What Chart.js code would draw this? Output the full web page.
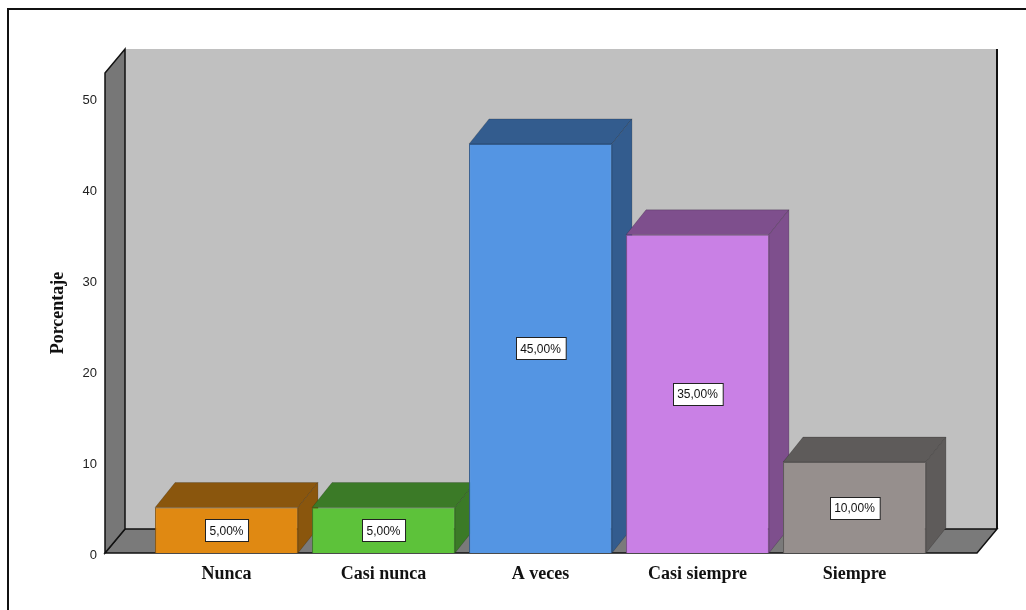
<!DOCTYPE html>
<html>
<head>
<meta charset="utf-8">
<script src="https://cdn.jsdelivr.net/npm/chart.js@4.4.1/dist/chart.umd.min.js"></script>
<style>
  html, body { margin: 0; padding: 0; background: #ffffff; overflow: hidden; }
  canvas { display: block; }
</style>
</head>
<body>
<canvas id="chart" width="1026" height="610"></canvas>
<script>
// Response categories and their percentages
const categories = ['Nunca', 'Casi nunca', 'A veces', 'Casi siempre', 'Siempre'];
const percentages = [5, 5, 45, 35, 10];
const yTicks = [0, 10, 20, 30, 40, 50];

// Front face colours and the darker shade used for the top / side faces
const frontColors = ['#E08912', '#5DC23A', '#5495E3', '#C980E5', '#968F8D'];
const shadeColors = ['#8A560D', '#3B7A27', '#335C8E', '#7E4F8D', '#5E5B5A'];

// 3D box look: depth offsets for walls and bars
const WALL_DEPTH = { x: 20, y: -24 };
const BAR_DEPTH = { x: 20, y: -25 };
const WALL_PAD_LEFT = 43;
const WALL_PAD_RIGHT = 44;

function poly(ctx, pts, fill, stroke, lw) {
  ctx.beginPath();
  ctx.moveTo(pts[0][0], pts[0][1]);
  for (let i = 1; i < pts.length; i++) ctx.lineTo(pts[i][0], pts[i][1]);
  ctx.closePath();
  if (fill) { ctx.fillStyle = fill; ctx.fill(); }
  if (stroke) { ctx.strokeStyle = stroke; ctx.lineWidth = lw || 1; ctx.stroke(); }
}

const box3d = {
  id: 'box3d',
  beforeDraw(chart) {
    const ctx = chart.ctx;
    // outer frame (open towards the right and bottom edges)
    ctx.save();
    ctx.strokeStyle = '#111';
    ctx.lineWidth = 2;
    ctx.beginPath();
    ctx.moveTo(8, chart.height + 5);
    ctx.lineTo(8, 9);
    ctx.lineTo(chart.width + 5, 9);
    ctx.stroke();
    ctx.restore();
  },
  beforeDatasetsDraw(chart) {
    const ctx = chart.ctx;
    const area = chart.chartArea;
    const ys = chart.scales.y;
    const y0 = ys.getPixelForValue(0);
    const yTop = area.top;
    const L = area.left - WALL_PAD_LEFT;
    const R = area.right + WALL_PAD_RIGHT;
    const dx = WALL_DEPTH.x, dy = WALL_DEPTH.y;
    ctx.save();
    // back wall
    ctx.fillStyle = '#C0C0C0';
    ctx.fillRect(L + dx, yTop + dy, R - L, y0 - yTop);
    ctx.strokeStyle = '#111';
    ctx.lineWidth = 2;
    ctx.beginPath();
    ctx.moveTo(R + dx, yTop + dy);
    ctx.lineTo(R + dx, y0 + dy);
    ctx.stroke();
    // floor
    poly(ctx, [[L, y0], [L + dx, y0 + dy], [R + dx, y0 + dy], [R, y0]], '#7A7A7A', '#111', 1.5);
    // left wall
    poly(ctx, [[L, yTop], [L + dx, yTop + dy], [L + dx, y0 + dy], [L, y0]], '#777777', '#111', 1.5);

    // top and side faces of each bar
    const meta = chart.getDatasetMeta(0);
    const bx = BAR_DEPTH.x, by = BAR_DEPTH.y;
    meta.data.forEach((el, i) => {
      const p = el.getProps(['x', 'y', 'base', 'width'], true);
      const left = p.x - p.width / 2;
      const right = p.x + p.width / 2;
      const shade = shadeColors[i];
      poly(ctx, [[left, p.y], [left + bx, p.y + by], [right + bx, p.y + by], [right, p.y]], shade, 'rgba(0,0,0,0.18)', 1);
      poly(ctx, [[right, p.y], [right + bx, p.y + by], [right + bx, p.base + by], [right, p.base]], shade, 'rgba(0,0,0,0.18)', 1);
    });
    ctx.restore();
  },
  afterDatasetsDraw(chart) {
    const ctx = chart.ctx;
    const meta = chart.getDatasetMeta(0);
    const ds = chart.data.datasets[0];
    ctx.save();
    ctx.font = '12px "Liberation Sans", Arial, sans-serif';
    ctx.textAlign = 'center';
    ctx.textBaseline = 'middle';
    meta.data.forEach((el, i) => {
      const p = el.getProps(['x', 'y', 'base'], true);
      const text = ds.data[i].toFixed(2).replace('.', ',') + '%';
      const cy = (p.y + p.base) / 2;
      const w = ctx.measureText(text).width + 9;
      const h = 22;
      const bxl = Math.round(p.x - w / 2) + 0.5;
      const byt = Math.round(cy - h / 2) + 0.5;
      ctx.fillStyle = '#ffffff';
      ctx.fillRect(bxl, byt, w, h);
      ctx.strokeStyle = '#222';
      ctx.lineWidth = 1;
      ctx.strokeRect(bxl, byt, w, h);
      ctx.fillStyle = '#111';
      ctx.fillText(text, p.x, cy + 1);
    });
    ctx.restore();
  }
};

new Chart(document.getElementById('chart'), {
  type: 'bar',
  data: {
    labels: categories,
    datasets: [{
      data: percentages,
      backgroundColor: frontColors,
      borderColor: shadeColors,
      borderWidth: 1,
      barPercentage: 0.91,
      categoryPercentage: 1
    }]
  },
  options: {
    responsive: false,
    animation: false,
    events: [],
    layout: { padding: { top: 73, right: 93, bottom: 0, left: 0 } },
    plugins: {
      legend: { display: false },
      tooltip: { enabled: false }
    },
    scales: {
      x: {
        offset: true,
        grid: { display: false },
        border: { display: false },
        ticks: {
          padding: 3,
          autoSkip: false,
          maxRotation: 0,
          color: '#111',
          font: { family: '"Liberation Serif", "Times New Roman", serif', size: 18, weight: 'bold' }
        },
        afterFit(scale) { scale.height = 57; }
      },
      y: {
        min: 0,
        max: 52.8,
        grid: { display: false },
        border: { display: false },
        afterBuildTicks(scale) { scale.ticks = yTicks.map(v => ({ value: v })); },
        ticks: {
          padding: 43,
          labelOffset: 2,
          color: '#222',
          font: { family: '"Liberation Sans", Arial, sans-serif', size: 13 }
        },
        title: {
          display: true,
          text: 'Porcentaje',
          color: '#111',
          font: { family: '"Liberation Serif", "Times New Roman", serif', size: 18, weight: 'bold' },
          padding: { top: 48, bottom: 0 }
        },
        afterFit(scale) { scale.width = 148; }
      }
    }
  },
  plugins: [box3d]
});
</script>
</body>
</html>
